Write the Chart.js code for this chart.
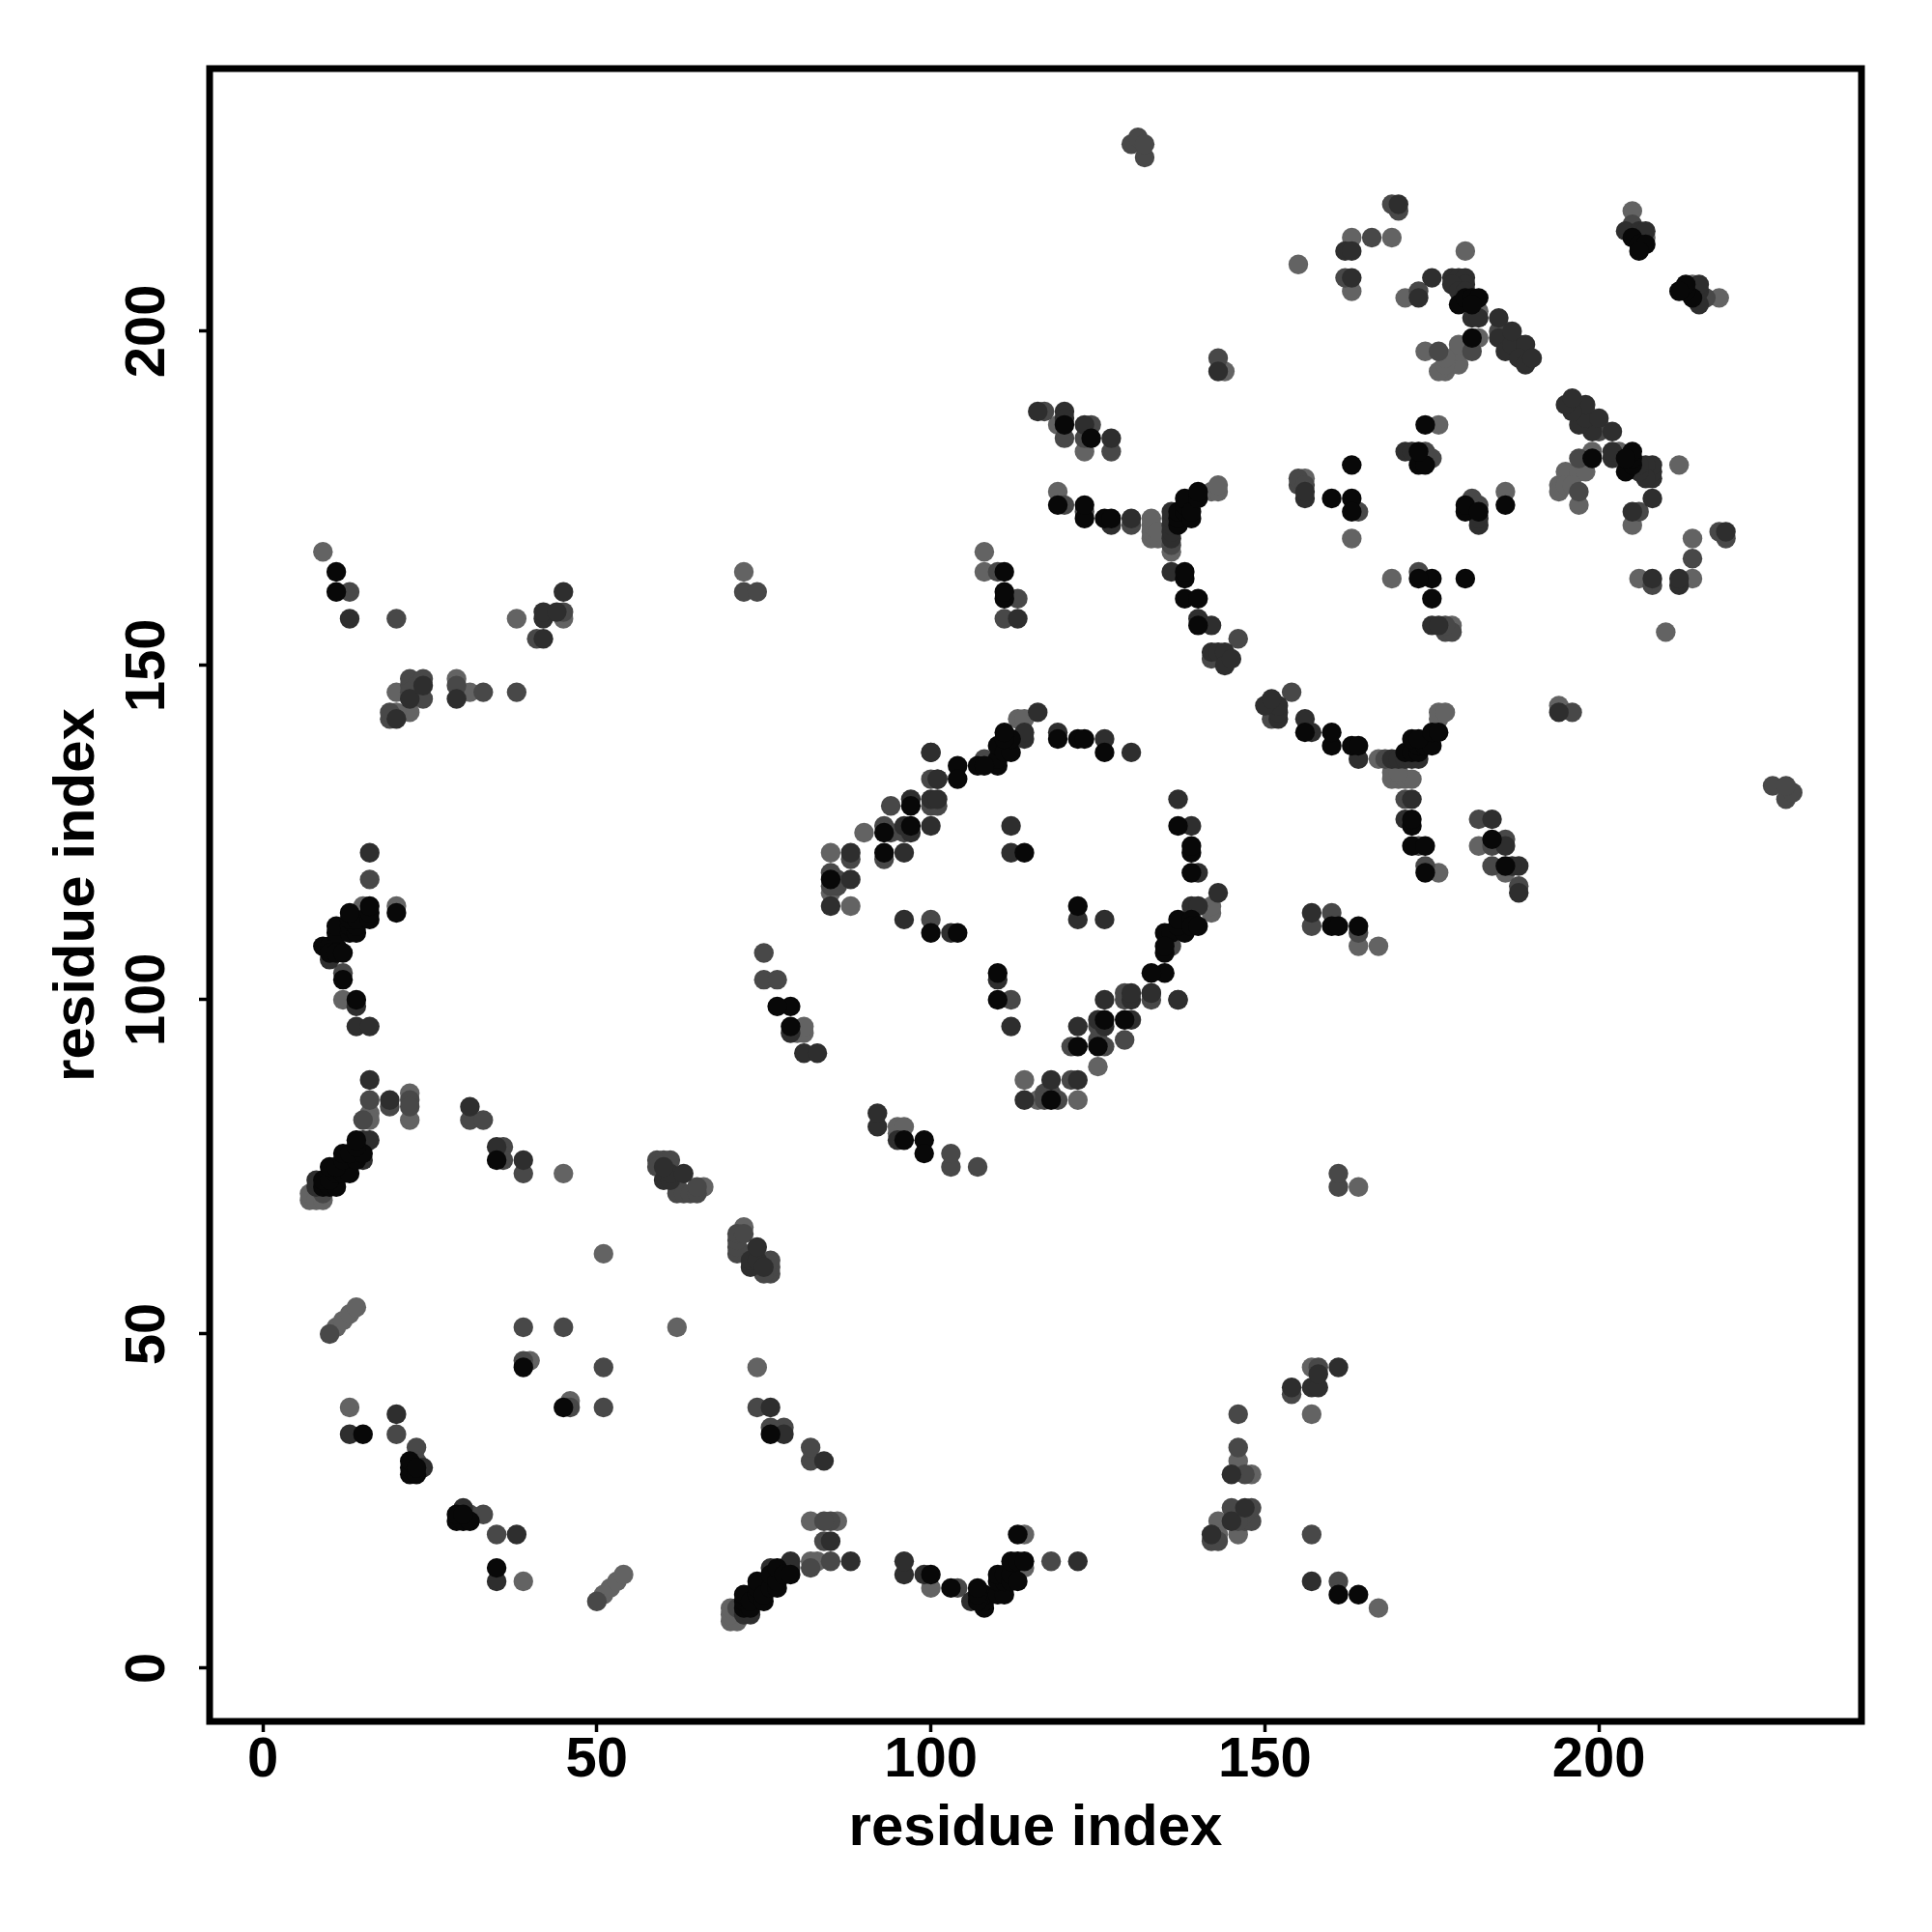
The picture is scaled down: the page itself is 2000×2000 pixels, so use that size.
<!DOCTYPE html>
<html>
<head>
<meta charset="utf-8">
<title>residue contact map</title>
<script src="https://cdn.jsdelivr.net/npm/chart.js@4"></script>
<style>
  html, body { margin: 0; padding: 0; background: #fff; }
  canvas { display: block; }
</style>
</head>
<body>
<canvas id="contactMap" width="2000" height="2000"></canvas>
<script>
// contact pairs [low residue, high residue], the map is symmetric so each pair is plotted both ways
const blackContacts = [
  [9,72],[10,72],[11,72],[9,73],[10,73],[11,74],[12,74],[13,74],[10,75],[11,75],[12,76],[14,76],[12,77],[13,77],[15,77],[14,78],[14,79],
  [9,108],[10,108],[11,108],[10,107],[11,107],[12,107],[11,110],[11,111],[13,110],[13,111],[14,110],[14,111],[13,112],[14,112],[13,113],[16,112],[16,113],[16,114],[20,113],[12,103],[14,100],
  [22,29],[22,30],[22,31],[23,29],[23,30],[15,35],[35,76],[39,45],[11,161],[11,164],
  [79,96],[79,99],[77,99],[100,110],[104,110],[110,135],[110,136],[110,138],[107,135],[108,135],[104,135],[104,133],[111,137],[112,137],[112,139],[111,139],[111,140],[114,122],[122,139],[123,139],[119,139],[126,137],
  [93,125],[97,129],[97,126],[93,122],[85,118],
  [138,160],[138,163],[138,164],[140,160],[140,156],[137,171],[137,172],[137,173],[138,173],[138,174],[138,175],[139,172],[139,173],[140,175],[140,176],[123,172],[123,174],[119,174],[126,172],[127,172],[124,184],[120,186],[111,160],[111,161],[111,164],
  [160,175],[163,175],[163,173],[163,180],[173,180],[174,180],[173,182],[174,186],[179,204],[180,205],[181,205],[182,205],[181,199],[181,204],[205,214],[206,213],[207,213],[206,212]
];
const darkContacts = [
  [8,72],[8,73],[15,76],[15,78],[15,79],[16,79],[10,106],[14,99],[14,96],[16,96],[16,88],[16,122],[19,85],[13,35],[20,38],[24,30],[13,157],[31,84],[35,78],[39,76],[20,142],[22,145],[24,147],[29,145],[42,154],[42,157],[42,158],[44,158],[45,161],
  [60,73],[61,73],[61,74],[60,75],[63,74],[96,112],[96,122],[96,126],[100,126],[100,137],[97,125],[100,130],[101,130],[97,130],[101,133],[88,118],[88,122],[85,114],[112,126],[112,122],[114,139],[114,140],[116,143],[130,137],[119,140],[126,139],[79,95],[81,92],[83,92],[103,110],[133,101],[137,100],
  [116,188],[120,188],[120,187],[123,186],[127,184],[130,172],[127,171],[136,169],[136,170],[136,171],[136,172],[136,173],[136,164],[140,157],[142,156],[142,152],[143,152],[144,152],[144,150],[145,151],[143,194],[113,157],
  [162,212],[163,212],[163,208],[175,208],[178,208],[179,208],[180,208],[180,207],[178,207],[179,206],[180,206],[181,202],[182,202],[185,202],[185,199],[186,197],[187,198],[187,200],[189,198],[188,196],[189,195],[190,196],[170,219],[171,182],[172,182],[173,205],[204,215],[206,215],[207,215],[156,175],[156,176]
];
const midContacts = [
  [9,71],[12,104],[10,50],[16,85],[15,82],[19,84],[22,85],[22,84],[16,118],[31,82],[33,82],[36,78],[36,76],[38,146],[41,154],[13,161],[20,157],[39,46],[39,51],[45,51],[23,33],[23,31],[20,35],[39,74],
  [59,76],[60,76],[61,76],[59,75],[62,73],[62,72],[62,71],[63,71],[64,71],[65,71],[65,72],[75,103],[75,107],[77,103],
  [100,133],[100,129],[101,129],[94,129],[94,125],[96,125],[93,126],[93,121],[88,121],[86,118],[86,117],[85,119],[85,117],[100,112],[108,136],
  [130,171],[120,174],[123,173],[124,186],[123,184],[117,188],[127,182],[120,184],[113,160],[110,164],[111,157],[143,196],[146,154],[142,151],[72,161],[74,161],
  [19,142],[19,143],[22,147],[22,148],[23,147],[24,145],[24,148],[29,147],[33,146],[22,146],[45,158],[130,228],[132,226],[131,229],[132,228],[136,168],
  [155,177],[155,178],[156,177],[162,208],[164,173],[173,206],[174,182],[175,181],[181,197],[176,197],[185,200],[188,198],[205,216],[166,214],[170,218],[169,219]
];
const lightContacts = [
  [7,70],[7,71],[8,70],[9,70],[11,51],[12,52],[13,53],[14,54],[13,39],[15,114],[20,114],[12,100],[16,83],[16,82],[22,86],[22,82],[45,74],[40,46],[51,62],[29,148],[31,146],[20,146],[22,143],[20,143],[38,157],[45,157],[9,167],[72,164],[66,72],
  [85,122],[85,116],[90,125],[88,114],[113,142],[114,142],[80,95],[81,95],[81,96],[108,167],[108,164],[119,176],[142,176],[143,176],[143,177],
  [133,169],[133,170],[133,171],[133,172],[134,169],[134,170],[136,167],[144,194],[171,205],[155,210],[169,214],[163,214],[163,206],[163,169],[174,197],[177,194],[176,194],[179,195],[179,197],[179,198],[177,195],[177,196],[182,199],[182,203],[176,186],[186,200],[207,214],[180,212],[205,218],[156,178],[119,186],[123,182]
];
const tickValues = [0, 50, 100, 150, 200];
const axisLabel = 'residue index';

function bothWays(pairs) {
    const pts = [];
    pairs.forEach(p => {
        pts.push({ x: p[0], y: p[1] });
        pts.push({ x: p[1], y: p[0] });
    });
    return pts;
}

function layer(pairs, colour, order) {
    return { data: bothWays(pairs), backgroundColor: colour, borderWidth: 0, pointRadius: 10.2, order: order };
}

// heavy frame around the plot, like box() in base R
const plotFrame = {
    id: 'plotFrame',
    afterDatasetsDraw(chart) {
        const a = chart.chartArea, c = chart.ctx;
        c.save();
        c.strokeStyle = '#000';
        c.lineWidth = 7;
        c.strokeRect(a.left, a.top, a.right - a.left, a.bottom - a.top);
        c.restore();
    }
};

const tickFont = { family: '"Liberation Sans"', size: 58, weight: 'bold' };
const titleFont = { family: '"Liberation Sans"', size: 60, weight: 'bold' };
const axisCommon = {
    type: 'linear',
    min: -7.96,
    max: 239.3,
    afterBuildTicks: s => { s.ticks = tickValues.map(v => ({ value: v })); },
    border: { display: false },
    grid: { drawOnChartArea: false, drawTicks: true, tickLength: 11, tickWidth: 3.5, tickColor: '#000' }
};

new Chart(document.getElementById('contactMap').getContext('2d'), {
    type: 'scatter',
    data: {
        datasets: [
            layer(blackContacts, '#080808', 1),
            layer(darkContacts, '#2e2e2e', 2),
            layer(midContacts, '#484848', 3),
            layer(lightContacts, '#636363', 4)
        ]
    },
    options: {
        responsive: false,
        animation: false,
        layout: { padding: { top: 71, right: 73, left: 0, bottom: 0 } },
        plugins: { legend: { display: false }, tooltip: { enabled: false } },
        scales: {
            x: {
                ...axisCommon,
                afterFit: s => { s.height = 218; },
                ticks: { color: '#000', font: tickFont, padding: -5, maxRotation: 0, autoSkip: false },
                title: { display: true, text: axisLabel, color: '#000', font: titleFont, padding: { top: 0, bottom: 71 } }
            },
            y: {
                ...axisCommon,
                afterFit: s => { s.width = 217; },
                ticks: { color: '#000', font: tickFont, padding: 4, minRotation: 90, maxRotation: 90, crossAlign: 'center', autoSkip: false },
                title: { display: true, text: axisLabel, color: '#000', font: titleFont, padding: { top: 44, bottom: 0 } }
            }
        }
    },
    plugins: [plotFrame]
});
</script>
</body>
</html>
